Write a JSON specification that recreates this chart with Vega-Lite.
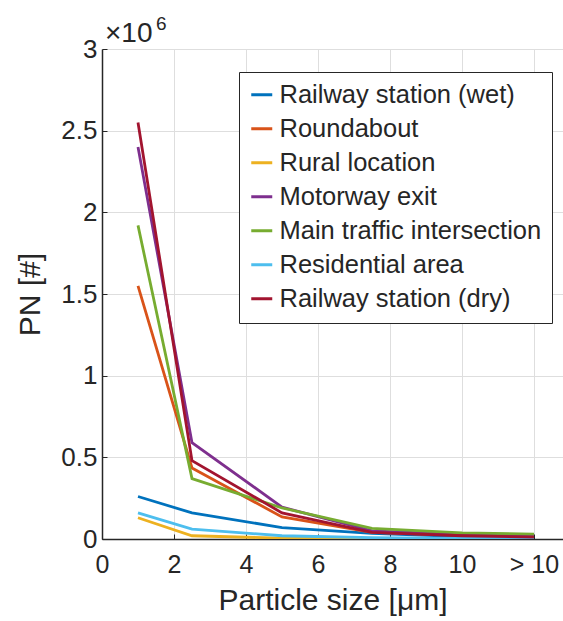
{
  "$schema": "https://vega.github.io/schema/vega-lite/v6.json",
  "autosize": {"type": "none"},
  "padding": {"left": 102, "top": 49, "right": 0, "bottom": 82},
  "width": 461,
  "height": 490,
  "background": "white",
  "config": {
    "font": "Liberation Sans",
    "view": {"stroke": null},
    "axis": {"labelFont": "Liberation Sans", "titleFont": "Liberation Sans", "labelColor": "#262626", "titleColor": "#262626", "titleFontWeight": "normal"}
  },
  "datasets": {
    "pn": [
      {"site": "Railway station (wet)", "size": 1, "pn": 260000},
      {"site": "Railway station (wet)", "size": 2.5, "pn": 160000},
      {"site": "Railway station (wet)", "size": 5, "pn": 70000},
      {"site": "Railway station (wet)", "size": 7.5, "pn": 35000},
      {"site": "Railway station (wet)", "size": 10, "pn": 15000},
      {"site": "Railway station (wet)", "size": 12, "pn": 8000},
      {"site": "Roundabout", "size": 1, "pn": 1550000},
      {"site": "Roundabout", "size": 2.5, "pn": 435000},
      {"site": "Roundabout", "size": 5, "pn": 135000},
      {"site": "Roundabout", "size": 7.5, "pn": 40000},
      {"site": "Roundabout", "size": 10, "pn": 22000},
      {"site": "Roundabout", "size": 12, "pn": 15000},
      {"site": "Rural location", "size": 1, "pn": 130000},
      {"site": "Rural location", "size": 2.5, "pn": 20000},
      {"site": "Rural location", "size": 5, "pn": 5000},
      {"site": "Rural location", "size": 7.5, "pn": 2000},
      {"site": "Rural location", "size": 10, "pn": 1000},
      {"site": "Rural location", "size": 12, "pn": 1000},
      {"site": "Motorway exit", "size": 1, "pn": 2400000},
      {"site": "Motorway exit", "size": 2.5, "pn": 590000},
      {"site": "Motorway exit", "size": 5, "pn": 195000},
      {"site": "Motorway exit", "size": 7.5, "pn": 50000},
      {"site": "Motorway exit", "size": 10, "pn": 28000},
      {"site": "Motorway exit", "size": 12, "pn": 20000},
      {"site": "Main traffic intersection", "size": 1, "pn": 1920000},
      {"site": "Main traffic intersection", "size": 2.5, "pn": 370000},
      {"site": "Main traffic intersection", "size": 5, "pn": 190000},
      {"site": "Main traffic intersection", "size": 7.5, "pn": 65000},
      {"site": "Main traffic intersection", "size": 10, "pn": 38000},
      {"site": "Main traffic intersection", "size": 12, "pn": 30000},
      {"site": "Residential area", "size": 1, "pn": 160000},
      {"site": "Residential area", "size": 2.5, "pn": 60000},
      {"site": "Residential area", "size": 5, "pn": 20000},
      {"site": "Residential area", "size": 7.5, "pn": 8000},
      {"site": "Residential area", "size": 10, "pn": 4000},
      {"site": "Residential area", "size": 12, "pn": 3000},
      {"site": "Railway station (dry)", "size": 1, "pn": 2550000},
      {"site": "Railway station (dry)", "size": 2.5, "pn": 480000},
      {"site": "Railway station (dry)", "size": 5, "pn": 160000},
      {"site": "Railway station (dry)", "size": 7.5, "pn": 40000},
      {"site": "Railway station (dry)", "size": 10, "pn": 20000},
      {"site": "Railway station (dry)", "size": 12, "pn": 12000}
    ],
    "note": [{"x": 0, "y": 3000000}]
  },
  "layer": [
    {
      "data": {"name": "pn"},
      "mark": {"type": "line", "strokeWidth": 2.8, "clip": true},
      "encoding": {
        "x": {
          "field": "size", "type": "quantitative",
          "scale": {"domain": [0, 12.806], "nice": false, "zero": false},
          "axis": {
            "values": [0, 2, 4, 6, 8, 10, 12],
            "labelExpr": "datum.value == 12 ? '> 10' : datum.label",
            "title": "Particle size [μm]",
            "titleFontSize": 30, "labelFontSize": 25,
            "tickSize": -5, "tickColor": "#262626", "labelPadding": 18,
            "domainColor": "#262626", "domainWidth": 1.5,
            "gridColor": "#dedede", "gridWidth": 1,
            "titlePadding": 8, "labelFlush": false, "labelOverlap": false
          }
        },
        "y": {
          "field": "pn", "type": "quantitative",
          "scale": {"domain": [0, 3000000], "nice": false},
          "axis": {
            "values": [0, 500000, 1000000, 1500000, 2000000, 2500000, 3000000],
            "labelExpr": "format(datum.value / 1000000, '')",
            "title": "PN [#]",
            "titleFontSize": 30, "labelFontSize": 26,
            "tickSize": -5, "tickColor": "#262626", "labelPadding": 10,
            "domainColor": "#262626", "domainWidth": 1.5,
            "gridColor": "#dedede", "gridWidth": 1,
            "titlePadding": 15, "labelFlush": false, "labelOverlap": false
          }
        },
        "color": {
          "field": "site", "type": "nominal",
          "scale": {
            "domain": ["Railway station (wet)", "Roundabout", "Rural location", "Motorway exit", "Main traffic intersection", "Residential area", "Railway station (dry)"],
            "range": ["#0072BD", "#D95319", "#EDB120", "#7E2F8E", "#77AC30", "#4DBEEE", "#A2142F"]
          },
          "legend": {
            "title": null,
            "orient": "none",
            "legendX": 137,
            "legendY": 23,
            "symbolType": "stroke",
            "symbolSize": 441,
            "symbolStrokeWidth": 3,
            "labelFontSize": 25.5,
            "labelFont": "Liberation Sans",
            "labelColor": "#262626",
            "labelLimit": 400,
            "rowPadding": 7,
            "labelOffset": 5,
            "padding": 10,
            "strokeColor": "#262626",
            "fillColor": "white",
            "cornerRadius": 0
          }
        },
        "order": {"field": "size", "type": "quantitative"}
      }
    },
    {
      "data": {"name": "note"},
      "mark": {"type": "text", "text": "×10", "fontSize": 28, "align": "left", "baseline": "alphabetic", "dx": 3, "dy": -7, "color": "#262626", "font": "Liberation Sans"},
      "encoding": {
        "x": {"field": "x", "type": "quantitative"},
        "y": {"field": "y", "type": "quantitative"}
      }
    },
    {
      "data": {"name": "note"},
      "mark": {"type": "text", "text": "6", "fontSize": 19, "align": "left", "baseline": "alphabetic", "dx": 54, "dy": -19, "color": "#262626", "font": "Liberation Sans"},
      "encoding": {
        "x": {"field": "x", "type": "quantitative"},
        "y": {"field": "y", "type": "quantitative"}
      }
    }
  ]
}
